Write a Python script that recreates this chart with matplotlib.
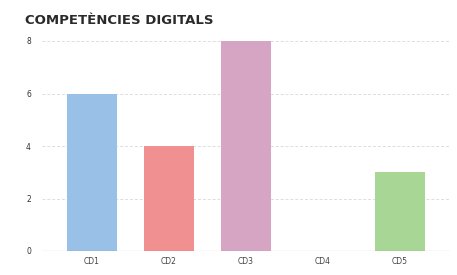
import matplotlib
matplotlib.use("Agg")
import matplotlib.pyplot as plt

categories = ["CD1", "CD2", "CD3", "CD4", "CD5"]
values = [6, 4, 8, 0, 3]
colors = ["#99c0e6", "#f09090", "#d6a5c4", "#c9dcf0", "#a8d694"]
yticks = [0, 2, 4, 6, 8]

fig = plt.figure(figsize=(4.57, 2.75), dpi=100)
ax = fig.add_axes([42/457, 1-251/275, (450-42)/457, (251-41)/275])

ax.bar(range(len(categories)), values, width=0.65, color=colors, zorder=2)
ax.set_xlim(-0.65, 4.65)
ax.set_ylim(0, 8)
ax.set_yticks(yticks)
ax.set_yticklabels([str(v) for v in yticks], fontsize=5.5, color="#333333")
ax.set_xticks(range(len(categories)))
ax.set_xticklabels(categories, fontsize=5.5, color="#444444")
ax.tick_params(length=0, pad=8)
ax.tick_params(axis="x", pad=4)

for y in yticks[1:]:
    ax.axhline(y, color="#dddddd", lw=0.7, ls=(0, (3, 2)), zorder=1)
ax.axhline(0, color="#888888", lw=0.8, zorder=3)

for s in ax.spines.values():
    s.set_visible(False)

fig.text(25/457, 1-21/275, "COMPETÈNCIES DIGITALS", fontsize=9.5, fontweight="bold",
         color="#2a2a2a", va="center", ha="left")

fig.savefig("out.png", dpi=100)
